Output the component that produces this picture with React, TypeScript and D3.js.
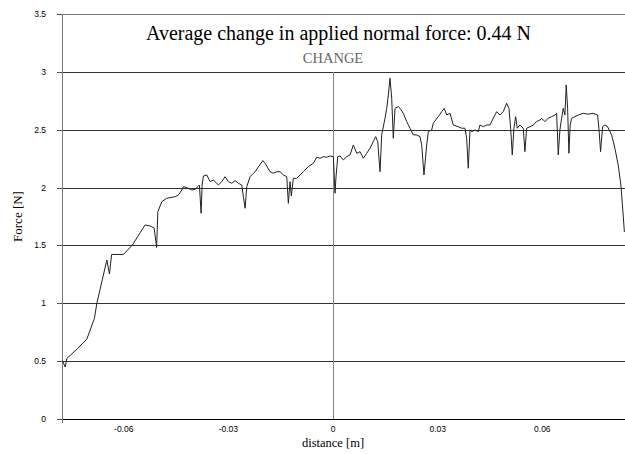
import React from "react";
import * as d3 from "d3";

const distance: number[] = [
  -0.07756, -0.07679, -0.0763, -0.07315, -0.07057, -0.0684, -0.06771, -0.06484, -0.0641, -0.06347,
  -0.06009, -0.05751, -0.0553, -0.05387, -0.05244, -0.05129, -0.05057, -0.05023, -0.04908, -0.04765,
  -0.04527, -0.04433, -0.04335, -0.04289, -0.04146, -0.04049, -0.03954, -0.03877, -0.03831, -0.03782,
  -0.03754, -0.03716, -0.03619, -0.03524, -0.0343, -0.03287, -0.03189, -0.03095, -0.03, -0.02903,
  -0.02808, -0.02713, -0.02616, -0.0257, -0.02521, -0.02473, -0.02378, -0.02284, -0.02235, -0.02014,
  -0.01948, -0.01805, -0.01711, -0.01613, -0.01519, -0.01424, -0.01327, -0.01281, -0.01232, -0.01195,
  -0.01138, -0.0104, -0.00946, -0.00851, -0.00708, -0.00564, -0.00467, -0.00372, -0.00278, -0.00181,
  -0.00086, 0.00009, 0.00057, 0.00086, 0.00135, 0.00201, 0.00295, 0.00393, 0.00487, 0.00582,
  0.00679, 0.00774, 0.00868, 0.00966, 0.0106, 0.01155, 0.01223, 0.01281, 0.01347, 0.01395,
  0.0149, 0.01539, 0.01585, 0.01633, 0.01682, 0.01728, 0.01777, 0.01871, 0.0192, 0.02014,
  0.02112, 0.02206, 0.02301, 0.02398, 0.02493, 0.02542, 0.02607, 0.02685, 0.02731, 0.02828,
  0.02874, 0.03017, 0.03115, 0.03189, 0.03258, 0.03352, 0.03447, 0.0359, 0.03688, 0.03782,
  0.03831, 0.03877, 0.03926, 0.03974, 0.04069, 0.04163, 0.04212, 0.04307, 0.04404, 0.04499,
  0.04593, 0.04691, 0.04785, 0.0488, 0.04977, 0.05043, 0.05092, 0.05138, 0.05186, 0.05235,
  0.05281, 0.05358, 0.05453, 0.05501, 0.0555, 0.05645, 0.05739, 0.05837, 0.05931, 0.0598,
  0.06074, 0.06169, 0.06266, 0.06361, 0.0641, 0.06456, 0.06504, 0.06553, 0.06599, 0.06648,
  0.06685, 0.06725, 0.06762, 0.06799, 0.0684, 0.06934, 0.07029, 0.07172, 0.07315, 0.07458,
  0.07585, 0.07622, 0.0767, 0.07728, 0.07794, 0.07871, 0.07986, 0.0808, 0.08175, 0.08252,
  0.08318, 0.08352,
];

const force: number[] = [
  0.504, 0.449, 0.523, 0.611, 0.691, 0.87, 1.0, 1.374, 1.253, 1.422,
  1.422, 1.504, 1.61, 1.677, 1.668, 1.651, 1.482, 1.792, 1.878, 1.908,
  1.921, 1.936, 1.979, 2.008, 1.994, 1.979, 1.985, 2.008, 2.022, 1.778,
  2.022, 2.1, 2.109, 2.051, 2.066, 2.022, 2.051, 2.094, 2.051, 2.037,
  2.06, 2.037, 2.022, 1.921, 1.821, 2.008, 2.094, 2.124, 2.137, 2.233,
  2.21, 2.137, 2.124, 2.137, 2.137, 2.109, 2.094, 1.864, 2.051, 1.927,
  2.08, 2.08, 2.109, 2.137, 2.181, 2.21, 2.262, 2.253, 2.267, 2.262,
  2.273, 2.267, 1.951, 2.094, 2.267, 2.273, 2.239, 2.267, 2.282, 2.368,
  2.296, 2.31, 2.253, 2.296, 2.34, 2.397, 2.44, 2.397, 2.137, 2.455,
  2.599, 2.685, 2.8, 2.945, 2.772, 2.426, 2.685, 2.699, 2.685, 2.642,
  2.57, 2.513, 2.455, 2.455, 2.44, 2.368, 2.109, 2.368, 2.483, 2.498,
  2.556, 2.613, 2.656, 2.685, 2.627, 2.642, 2.541, 2.526, 2.513, 2.513,
  2.426, 2.167, 2.498, 2.483, 2.498, 2.483, 2.541, 2.526, 2.541, 2.541,
  2.599, 2.656, 2.627, 2.656, 2.729, 2.685, 2.513, 2.282, 2.513, 2.613,
  2.513, 2.541, 2.513, 2.31, 2.513, 2.526, 2.541, 2.57, 2.584, 2.599,
  2.57, 2.599, 2.613, 2.627, 2.642, 2.282, 2.498, 2.599, 2.685, 2.627,
  2.887, 2.685, 2.296, 2.541, 2.599, 2.613, 2.627, 2.642, 2.634, 2.642,
  2.627, 2.513, 2.31, 2.526, 2.541, 2.526, 2.455, 2.34, 2.195, 2.022,
  1.763, 1.616,
];

const yTicks: number[] = [0, 0.5, 1, 1.5, 2, 2.5, 3, 3.5];
const yTickLabels: string[] = ["0", "0.5", "1", "1.5", "2", "2.5", "3", "3.5"];
const xTicks: number[] = [-0.06, -0.03, 0, 0.03, 0.06];
const xTickLabels: string[] = ["-0.06", "-0.03", "0", "0.03", "0.06"];

const titleText = "Average change in applied normal force: 0.44 N";
const markerLabel = "CHANGE";
const markerX = 0;
const xDomain: [number, number] = [-0.0777, 0.0837];
const yDomain: [number, number] = [0, 3.5];

export default function App() {
  const W = 625;
  const H = 454;
  const left = 62;
  const right = 625;
  const top = 14;
  const bottom = 419;

  const x = d3.scaleLinear().domain(xDomain).range([left, right]);
  const y = d3.scaleLinear().domain(yDomain).range([bottom, top]);

  const pts: [number, number][] = distance.map((d, i) => [d, force[i]]);
  const line = d3
    .line<[number, number]>()
    .x((d) => x(d[0]))
    .y((d) => y(d[1]));

  const serif = { fontFamily: "Liberation Serif, serif" };
  const sans = { fontFamily: "Liberation Sans, Arial, sans-serif" };

  return (
    <svg
      width={W}
      height={H}
      style={{ position: "absolute", left: 0, top: 0, background: "#fff" }}
    >
      <rect x={0} y={0} width={W} height={H} fill="#fff" />
      {yTicks.map((t) => (
        <line
          key={"g" + t}
          x1={left}
          x2={right}
          y1={Math.round(y(t)) + 0.5}
          y2={Math.round(y(t)) + 0.5}
          stroke={t === 0 ? "#000" : t === 3.5 ? "#777" : "#333"}
          strokeWidth={1}
        />
      ))}
      {yTicks.map((t, i) => (
        <g key={"yt" + t}>
          <line
            x1={left - 5}
            x2={left}
            y1={Math.round(y(t)) + 0.5}
            y2={Math.round(y(t)) + 0.5}
            stroke="#555"
          />
          <text
            x={left - 16}
            y={y(t) + 3}
            textAnchor="end"
            style={sans}
            fontSize={8.5}
            fill="#000"
          >
            {yTickLabels[i]}
          </text>
        </g>
      ))}
      <line x1={left + 0.5} x2={left + 0.5} y1={top} y2={bottom + 4} stroke="#777" />
      <line
        x1={Math.round(x(markerX)) + 0.5}
        x2={Math.round(x(markerX)) + 0.5}
        y1={y(3)}
        y2={bottom}
        stroke="#888"
      />
      <text
        x={x(markerX)}
        y={63}
        textAnchor="middle"
        style={serif}
        fontSize={14.5}
        fill="#666"
      >
        {markerLabel}
      </text>
      {xTicks.map((t, i) => (
        <text
          key={"xt" + t}
          x={x(t)}
          y={432}
          textAnchor="middle"
          style={sans}
          fontSize={8.5}
          fill="#000"
        >
          {xTickLabels[i]}
        </text>
      ))}
      <path d={line(pts) || ""} fill="none" stroke="#222" strokeWidth={1} />
      <text
        x={338.5}
        y={40}
        textAnchor="middle"
        style={serif}
        fontSize={20}
        fill="#000"
      >
        {titleText}
      </text>
      <text
        x={333}
        y={447}
        textAnchor="middle"
        style={serif}
        fontSize={12.5}
        fill="#000"
      >
        distance [m]
      </text>
      <text
        transform={`translate(22,${(top + bottom) / 2}) rotate(-90)`}
        textAnchor="middle"
        style={serif}
        fontSize={13}
        fill="#000"
      >
        Force [N]
      </text>
    </svg>
  );
}
